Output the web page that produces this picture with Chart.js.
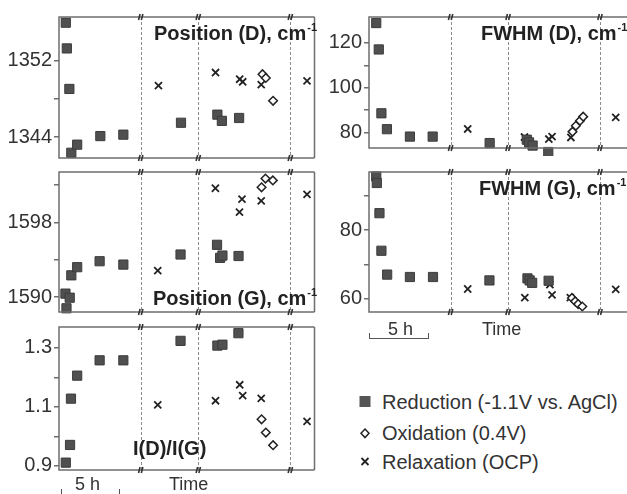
<!DOCTYPE html>
<html>
<head>
<meta charset="utf-8">
<script src="https://cdn.jsdelivr.net/npm/chart.js@4.4.1/dist/chart.umd.min.js"></script>
<style>
body { margin:0; width:627px; height:494px; overflow:hidden; position:relative; background:#fff;
       font-family:"Liberation Sans", Arial, sans-serif; color:#333; }
canvas { position:absolute; }
.ttl { position:absolute; font-size:20px; line-height:20px; font-weight:bold; color:#222; white-space:nowrap; }
.ttl span { font-size:11px; position:relative; top:-9px; margin-left:1px; }
.lbl { position:absolute; font-size:18px; line-height:18px; color:#333; white-space:nowrap; }
.leg { position:absolute; font-size:20px; line-height:20px; color:#333; white-space:nowrap; left:382px; }
.bar { position:absolute; border:1px solid #555; border-top:none; }
</style>
</head>
<body>

<canvas id="posD" width="322" height="171" style="left:0;top:2px"></canvas>
<canvas id="posG" width="322" height="170" style="left:0;top:157px"></canvas>
<canvas id="ratio" width="322" height="173" style="left:0;top:312px"></canvas>
<canvas id="fwD" width="330" height="161" style="left:320px;top:2px"></canvas>
<canvas id="fwG" width="330" height="170" style="left:320px;top:157px"></canvas>

<div class="ttl" style="left:154px;top:23px">Position (D), cm<span>-1</span></div>
<div class="ttl" style="left:153px;top:288px">Position (G), cm<span>-1</span></div>
<div class="ttl" style="left:133px;top:438px">I(D)/I(G)</div>
<div class="ttl" style="left:481px;top:23px">FWHM (D), cm<span>-1</span></div>
<div class="ttl" style="left:479px;top:178px">FWHM (G), cm<span>-1</span></div>

<div class="lbl" style="left:75px;top:475px">5 h</div>
<div class="lbl" style="left:169px;top:475px">Time</div>
<div class="bar" style="left:61px;top:489px;width:57px;height:6px"></div>
<div class="lbl" style="left:388px;top:320px">5 h</div>
<div class="lbl" style="left:482px;top:320px">Time</div>
<div class="bar" style="left:369px;top:333px;width:58px;height:5px"></div>

<svg style="position:absolute;left:352px;top:390px" width="26" height="85">
  <rect x="7.5" y="6" width="11" height="11" fill="#555"/>
  <path d="M13 39 L17 43.3 L13 47.6 L9 43.3 Z" fill="#fff" stroke="#222" stroke-width="1.5"/>
  <path d="M9.5 68 L16.5 75 M16.5 68 L9.5 75" stroke="#222" stroke-width="1.8"/>
</svg>
<div class="leg" style="top:392px">Reduction (-1.1V vs. AgCl)</div>
<div class="leg" style="top:423px">Oxidation (0.4V)</div>
<div class="leg" style="top:452px">Relaxation (OCP)</div>

<script>
// time in hours from the start of each panel
var breaks = [7.1, 12.1, 20.1];

var posD_red = [[0.59,1356.0],[0.68,1353.3],[0.9,1349.05],[1.07,1342.35],[1.58,1343.2],[3.59,1344.1],[5.59,1344.25],[10.6,1345.5],[13.76,1346.35],[14.15,1345.7],[15.65,1346.0]];
var posD_ox  = [[17.68,1350.6],[17.97,1350.2],[18.6,1347.8]];
var posD_rel = [[8.64,1349.4],[13.6,1350.77],[15.7,1350.07],[15.96,1349.8],[17.57,1349.5],[21.55,1349.9]];

var posG_red = [[0.56,1590.37],[0.65,1588.8],[0.93,1589.93],[1.07,1592.33],[1.58,1593.2],[3.53,1593.84],[5.59,1593.48],[10.56,1594.56],[13.73,1595.6],[14.0,1594.2],[14.2,1594.45],[15.6,1594.4]];
var posG_ox  = [[17.6,1601.76],[17.94,1602.7],[18.58,1602.5]];
var posG_rel = [[8.58,1592.84],[13.59,1601.66],[15.68,1599.1],[15.9,1600.5],[17.57,1600.3],[21.55,1601.0]];

var ratio_red = [[0.59,0.911],[0.96,0.971],[1.04,1.128],[1.58,1.206],[3.53,1.258],[5.59,1.258],[10.56,1.324],[13.76,1.308],[14.2,1.311],[15.59,1.35]];
var ratio_ox  = [[17.6,1.058],[17.97,1.013],[18.6,0.97]];
var ratio_rel = [[8.58,1.107],[13.6,1.121],[15.7,1.175],[15.96,1.138],[17.57,1.129],[21.55,1.051]];

var fwD_red = [[0.63,128.9],[0.85,117.1],[1.08,88.6],[1.56,81.5],[3.56,78.2],[5.54,78.2],[10.5,75.3],[13.73,76.8],[13.93,75.6],[14.24,74.2],[15.6,71.3]];
var fwD_ox  = [[17.71,80.4],[18.0,83.0],[18.36,85.3],[18.64,87.1]];
var fwD_rel = [[8.59,81.6],[13.53,78.0],[13.7,77.1],[15.65,77.1],[15.93,78.2],[17.57,77.8],[21.47,86.8]];

var fwG_red = [[0.63,95.6],[0.68,93.7],[0.91,84.9],[1.08,73.95],[1.58,67.0],[3.56,66.3],[5.57,66.3],[10.48,65.3],[13.79,65.9],[13.98,65.3],[14.2,64.6],[15.63,65.2]];
var fwG_ox  = [[17.66,60.2],[17.94,59.2],[18.2,58.4],[18.56,57.7]];
var fwG_rel = [[8.59,62.8],[13.56,60.3],[15.74,64.1],[15.93,61.1],[17.52,60.3],[21.47,62.7]];

// y ticks (all drawn) and the ones that get a label
var posD_ticks = [1344, 1348, 1352],          posD_labels = [1344, 1352];
var posG_ticks = [1590, 1594, 1598, 1602],    posG_labels = [1590, 1598];
var ratio_ticks = [0.9, 1.0, 1.1, 1.2, 1.3],  ratio_labels = [0.9, 1.1, 1.3];
var fwD_ticks = [80, 90, 100, 110, 120],      fwD_labels = [80, 100, 120];
var fwG_ticks = [60, 70, 80, 90],             fwG_labels = [60, 80];

function pts(arr) {
    return arr.map(function(p){ return {x: p[0], y: p[1]}; });
}

// frame, dashed separators and the // break marks
var framePlugin = {
    id: 'frame',
    beforeDatasetsDraw: function(chart) {
        var ctx = chart.ctx, a = chart.chartArea, xs = chart.scales.x;
        ctx.save();
        ctx.strokeStyle = '#8a8a8a';
        ctx.lineWidth = 1;
        ctx.setLineDash([3, 2]);
        breaks.forEach(function(b){
            var px = Math.round(xs.getPixelForValue(b)) + 0.5;
            ctx.beginPath(); ctx.moveTo(px, a.top); ctx.lineTo(px, a.bottom); ctx.stroke();
        });
        ctx.restore();
    },
    afterDatasetsDraw: function(chart) {
        var ctx = chart.ctx, a = chart.chartArea, xs = chart.scales.x;
        ctx.save();
        ctx.strokeStyle = '#6e6e6e';
        ctx.lineWidth = 1.5;
        ctx.beginPath();
        ctx.moveTo(a.right, a.top); ctx.lineTo(a.left, a.top);
        ctx.lineTo(a.left, a.bottom); ctx.lineTo(a.right, a.bottom);
        if (chart.options.rightBorder) { ctx.moveTo(a.right, a.top); ctx.lineTo(a.right, a.bottom); }
        ctx.stroke();
        ctx.strokeStyle = '#333';
        ctx.lineWidth = 1.6;
        breaks.forEach(function(b){
            var px = xs.getPixelForValue(b);
            [a.top, a.bottom].forEach(function(py){
                ctx.beginPath();
                ctx.moveTo(px - 2.2, py + 3); ctx.lineTo(px - 0.6, py - 3);
                ctx.moveTo(px + 0.6, py + 3); ctx.lineTo(px + 2.2, py - 3);
                ctx.stroke();
            });
        });
        ctx.restore();
    }
};

function makeChart(id, red, ox, rel, yMin, yMax, ticks, labels, xMax, axisW, padRight, rightBorder) {
    return new Chart(document.getElementById(id), {
        type: 'scatter',
        data: {
            datasets: [{
                label: 'Reduction (-1.1V vs. AgCl)',
                data: pts(red),
                pointStyle: 'rect',
                pointRadius: 6.5,
                backgroundColor: '#505050',
                borderColor: '#3c3c3c',
                borderWidth: 1,
                clip: 8
            }, {
                label: 'Oxidation (0.4V)',
                data: pts(ox),
                pointStyle: 'rectRot',
                pointRadius: 4.3,
                backgroundColor: '#fff',
                borderColor: '#222',
                borderWidth: 1.5,
                clip: 8
            }, {
                label: 'Relaxation (OCP)',
                data: pts(rel),
                pointStyle: 'crossRot',
                pointRadius: 5,
                borderColor: '#222',
                borderWidth: 1.8,
                clip: 8
            }]
        },
        options: {
            responsive: false,
            animation: false,
            rightBorder: rightBorder,
            layout: { padding: { top: 15, bottom: 15, left: 0, right: padRight } },
            plugins: { legend: { display: false }, tooltip: { enabled: false } },
            scales: {
                x: { type: 'linear', min: 0, max: xMax, display: false },
                y: {
                    min: yMin,
                    max: yMax,
                    afterBuildTicks: function(s) { s.ticks = ticks.map(function(v){ return {value: v}; }); },
                    afterFit: function(s) { s.width = axisW; },
                    border: { display: false },
                    grid: { drawOnChartArea: false, tickLength: 5, color: '#6e6e6e', lineWidth: 1.5 },
                    ticks: {
                        autoSkip: false,
                        padding: 2,
                        color: '#333',
                        font: { family: '"Liberation Sans", Arial, sans-serif', size: 20 },
                        callback: function(v) { return labels.indexOf(v) >= 0 ? String(v) : ''; }
                    }
                }
            }
        },
        plugins: [framePlugin]
    });
}

makeChart('posD', posD_red, posD_ox, posD_rel, 1341.8, 1356.6, posD_ticks, posD_labels, 22.2, 59, 1, true);
makeChart('posG', posG_red, posG_ox, posG_rel, 1588.4, 1603.4, posG_ticks, posG_labels, 22.2, 59, 1, true);
makeChart('ratio', ratio_red, ratio_ox, ratio_rel, 0.886, 1.371, ratio_ticks, ratio_labels, 22.2, 59, 1, true);
makeChart('fwD', fwD_red, fwD_ox, fwD_rel, 73.1, 131.6, fwD_ticks, fwD_labels, 23.8, 49, 0, false);
makeChart('fwG', fwG_red, fwG_ox, fwG_rel, 56.1, 96.9, fwG_ticks, fwG_labels, 23.8, 49, 0, false);
</script>
</body>
</html>
